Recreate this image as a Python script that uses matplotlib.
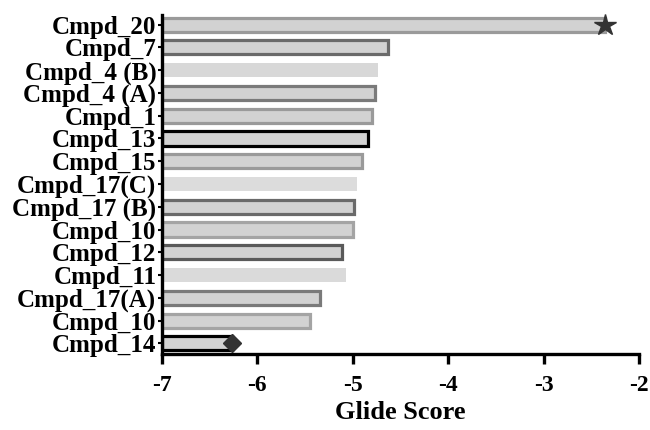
import matplotlib
matplotlib.use('Agg')
from matplotlib import pyplot as plt

# data, top to bottom as in the chart
compounds = ['Cmpd_20', 'Cmpd_7', 'Cmpd_4 (B)', 'Cmpd_4 (A)', 'Cmpd_1', 'Cmpd_13',
             'Cmpd_15', 'Cmpd_17(C)', 'Cmpd_17 (B)', 'Cmpd_10', 'Cmpd_12', 'Cmpd_11',
             'Cmpd_17(A)', 'Cmpd_10', 'Cmpd_14']
glide_scores = [-2.36, -4.63, -4.73, -4.77, -4.80, -4.84, -4.90, -4.95, -4.99, -5.00,
                -5.11, -5.07, -5.34, -5.45, -6.27]
x_ticks = [-7, -6, -5, -4, -3, -2]

edge_colors = ['#9a9a9a', '#6a6a6a', 'none', '#7a7a7a', '#9a9a9a', '#000000',
               '#9a9a9a', 'none', '#6a6a6a', '#a4a4a4', '#5a5a5a', 'none',
               '#7a7a7a', '#a4a4a4', '#000000']
face_colors = ['#d2d2d2', '#d2d2d2', '#d8d8d8', '#d2d2d2', '#d2d2d2', '#d2d2d2',
               '#d2d2d2', '#dcdcdc', '#d2d2d2', '#d2d2d2', '#d2d2d2', '#dadada',
               '#d2d2d2', '#d2d2d2', '#d2d2d2']

plt.rcParams['font.family'] = ['Liberation Serif', 'DejaVu Serif']
plt.rcParams['font.weight'] = 'bold'

figure = plt.figure(figsize=(6.5, 4.3), dpi=100)
ax = figure.add_axes([0.249, 0.177, 0.734, 0.788])

n = len(compounds)
ypos = [n - 1 - i for i in range(n)]
base = x_ticks[0]

for y, val, fc, ec in zip(ypos, glide_scores, face_colors, edge_colors):
    ax.barh(y, val - base, left=base, height=0.62, color=fc,
            edgecolor=ec, linewidth=2.3 if ec != 'none' else 0, zorder=2)

# markers at the ends of the best and worst bars
ax.plot(glide_scores[0], ypos[0], marker='*', markersize=16, color='#333333',
        zorder=3, clip_on=False)
ax.plot(glide_scores[-1], ypos[-1], marker='D', markersize=9, color='#333333',
        zorder=3, clip_on=False)

ax.set_xlim(-7, -2)
ax.set_ylim(-0.46, n - 1 + 0.42)
ax.set_xticks(x_ticks)
ax.set_xticklabels([str(t) for t in x_ticks], fontsize=17, fontweight='bold')
ax.set_yticks(ypos)
ax.set_yticklabels(compounds, fontsize=18, fontweight='bold')
ax.set_xlabel('Glide Score', fontsize=19, fontweight='bold', labelpad=4)

for side in ['top', 'right']:
    ax.spines[side].set_visible(False)
for side in ['left', 'bottom']:
    ax.spines[side].set_linewidth(2.4)
ax.tick_params(axis='x', direction='out', length=7, width=2.4, pad=8)
ax.tick_params(axis='y', direction='out', length=3, width=1.5, pad=1)

plt.savefig('out.png', dpi=100)
